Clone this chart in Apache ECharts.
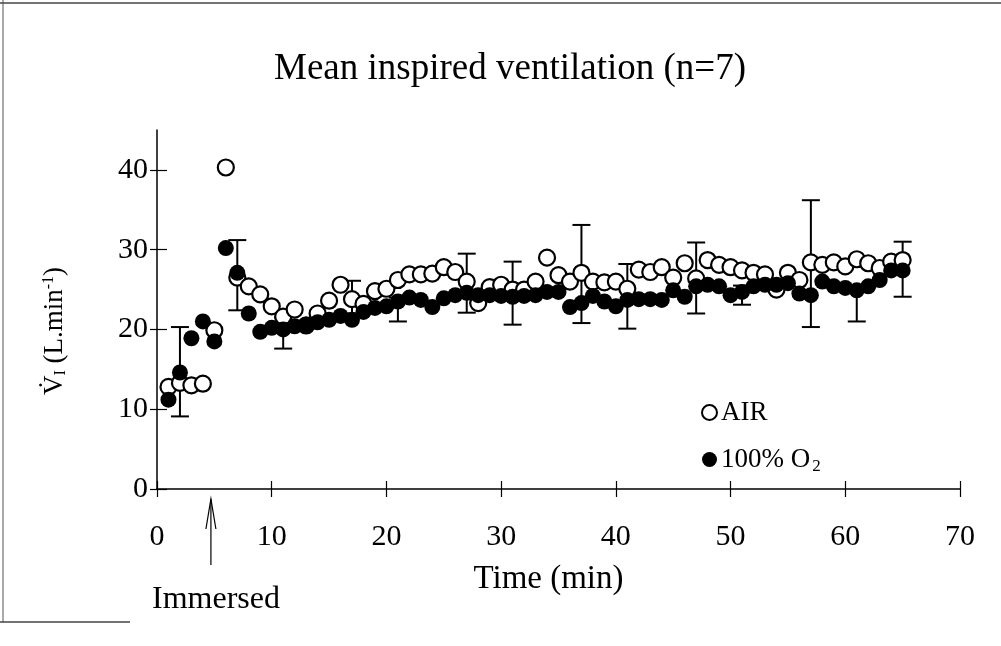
<!DOCTYPE html>
<html>
<head>
<meta charset="utf-8">
<script src="https://cdn.jsdelivr.net/npm/echarts@6/dist/echarts.min.js"></script>
<style>html,body{margin:0;padding:0;background:#fff}#c{width:1001px;height:646px}</style>
</head>
<body>
<div id="c"></div>
<script>
var time = [1,2,3,4,5,6,7,8,9,10,11,12,13,14,15,16,17,18,19,20,21,22,23,24,25,26,27,28,29,30,31,32,33,34,35,36,37,38,39,40,41,42,43,44,45,46,47,48,49,50,51,52,53,54,55,56,57,58,59,60,61,62,63,64,65];
var airValues = [12.8,13.3,13.0,13.2,19.9,40.3,26.5,25.4,24.4,22.9,21.6,22.5,20.5,22.0,23.6,25.6,23.8,23.2,24.8,25.1,26.2,26.9,26.9,27.0,27.8,27.2,26.0,23.3,25.3,25.6,25.0,25.0,26.0,29.0,26.8,26.0,27.1,26.0,25.9,26.0,25.1,27.5,27.2,27.8,26.5,28.3,26.4,28.7,28.1,27.8,27.4,27.1,26.9,25.0,27.1,26.2,28.4,28.1,28.4,27.9,28.8,28.3,27.7,28.5,28.7];
var o2Values = [11.2,14.6,18.9,21.0,18.5,30.2,27.1,22.0,19.7,20.2,20.0,20.4,20.6,20.9,21.2,21.7,21.2,22.2,22.7,22.9,23.5,24.0,23.7,22.8,23.9,24.3,24.6,24.3,24.3,24.2,24.1,24.2,24.3,24.7,24.7,22.8,23.3,24.2,23.5,22.9,23.7,23.8,23.8,23.7,24.9,24.1,25.4,25.6,25.4,24.3,24.7,25.4,25.6,25.6,25.8,24.5,24.3,26.0,25.4,25.2,24.9,25.4,26.2,27.4,27.4];
var errTime = [2,7,11,17,21,27,31,37,41,47,51,57,61,65];
var errLow  = [9.1,22.4,17.6,22.0,21.0,22.1,20.6,20.8,20.1,22.0,23.1,20.3,21.0,24.1];
var errHigh = [20.3,31.2,21.5,26.1,24.0,29.5,28.5,33.1,28.2,30.9,25.5,36.2,25.5,31.0];
var xTicks = [0,10,20,30,40,50,60,70];
var yTicks = [0,10,20,30,40];
var immersedAt = 4.7;

var FONT = '"Liberation Serif","Times New Roman",serif';
var airData = time.map(function(t,i){return [t, airValues[i]];});
var o2Data = time.map(function(t,i){return [t, o2Values[i]];});
var errData = errTime.map(function(t,i){return [t, errLow[i], errHigh[i]];});

var GL = 157, GR = 41, GT = 130, GB = 157;
var W = 1001, H = 646;
var chart = echarts.init(document.getElementById('c'), null, {renderer:'canvas'});
var option = {
  animation:false,
  backgroundColor:'#fff',
  title:{text:'Mean inspired ventilation (n=7)', left:505, top:46, textAlign:'center',
    textStyle:{fontFamily:FONT, fontSize:37, fontWeight:'normal', color:'#000'}},
  grid:{left:GL, right:GR, top:GT, bottom:GB},
  legend:{orient:'vertical', left:696, top:394, itemGap:20, itemWidth:15, itemHeight:15,
    data:['AIR','100% O2'],
    formatter:function(n){return n==='AIR' ? '{n|AIR}' : '{n|100% O}{s|2}';},
    textStyle:{fontFamily:FONT, fontSize:27, color:'#000', padding:[0,0,0,-1],
      rich:{n:{fontFamily:FONT, fontSize:27, color:'#000'}, s:{fontFamily:FONT, fontSize:17, color:'#000', verticalAlign:'bottom', padding:[14,0,0,2]}}}},
  xAxis:[
    {type:'value', min:0, max:70, interval:10, name:'Time (min)', nameLocation:'middle', nameGap:74,
     nameTextStyle:{fontFamily:FONT, fontSize:33, color:'#000', padding:[0,20,0,0]},
     axisLine:{show:true, onZero:false, lineStyle:{color:'#000', width:1.5}},
     axisTick:{show:true, length:8, lineStyle:{color:'#000', width:1.2}, customValues:xTicks},
     axisLabel:{customValues:xTicks, fontFamily:FONT, fontSize:30, color:'#000', margin:33},
     splitLine:{show:false}},
    {type:'value', min:0, max:70, interval:10, position:'top', offset:-(H-GT-GB),
     axisLine:{show:false, onZero:false},
     axisTick:{show:true, length:8, lineStyle:{color:'#000', width:1.2}, customValues:xTicks},
     axisLabel:{show:false}, splitLine:{show:false}}
  ],
  yAxis:[
    {type:'value', min:0, max:45, interval:10,
     axisLine:{show:true, onZero:false, lineStyle:{color:'#000', width:1.5}},
     axisTick:{show:true, length:7, lineStyle:{color:'#000', width:1.2}, customValues:yTicks},
     axisLabel:{customValues:yTicks, fontFamily:FONT, fontSize:30, color:'#000', margin:9},
     splitLine:{show:false}},
    {type:'value', min:0, max:45, interval:10, position:'right', offset:-(W-GL-GR),
     axisLine:{show:false, onZero:false},
     axisTick:{show:true, length:10, lineStyle:{color:'#000', width:1.2}, customValues:yTicks},
     axisLabel:{show:false}, splitLine:{show:false}}
  ],
  series:[
    {name:'err', type:'custom', xAxisIndex:0, yAxisIndex:0, z:1, data:errData,
     renderItem:function(params, api){
       var lo = api.coord([api.value(0), api.value(1)]);
       var hi = api.coord([api.value(0), api.value(2)]);
       var w = 9;
       var st = {stroke:'#000', lineWidth:2};
       return {type:'group', children:[
         {type:'line', shape:{x1:lo[0], y1:lo[1], x2:hi[0], y2:hi[1]}, style:st},
         {type:'line', shape:{x1:lo[0]-w, y1:lo[1], x2:lo[0]+w, y2:lo[1]}, style:st},
         {type:'line', shape:{x1:hi[0]-w, y1:hi[1], x2:hi[0]+w, y2:hi[1]}, style:st}
       ]};
     }},
    {name:'AIR', type:'scatter', xAxisIndex:0, yAxisIndex:0, z:2, symbol:'circle', symbolSize:16, data:airData,
     itemStyle:{color:'#fff', borderColor:'#000', borderWidth:2.2, opacity:1}},
    {name:'100% O2', type:'scatter', xAxisIndex:0, yAxisIndex:0, z:3, symbol:'circle', symbolSize:16, data:o2Data,
     itemStyle:{color:'#000', borderColor:'#000', borderWidth:0, opacity:1}}
  ]
};
chart.setOption(option);

var tip = chart.convertToPixel({xAxisIndex:0, yAxisIndex:0}, [immersedAt, 0]);
var ax = tip[0], ay = tip[1] + 10;
chart.setOption({graphic:[
  {type:'line', shape:{x1:ax, y1:ay, x2:ax, y2:ay+66}, style:{stroke:'#000', lineWidth:1.2}},
  {type:'polyline', shape:{points:[[ax-5, ay+30],[ax, ay],[ax+5, ay+30]]}, style:{stroke:'#000', lineWidth:1.2, fill:null}},
  {type:'text', left:152, top:584, style:{text:'Immersed', font:'32px ' + FONT, fill:'#000'}},
  {type:'text', x:55, y:331, rotation:Math.PI/2,
   style:{text:'{v|V̇}{s|I}{n| (L.min}{p|-1}{n|)}', align:'center', verticalAlign:'middle',
     rich:{v:{fontFamily:FONT, fontSize:27, fill:'#000'},
           n:{fontFamily:FONT, fontSize:27, fill:'#000'},
           s:{fontFamily:FONT, fontSize:16, fill:'#000', verticalAlign:'bottom', padding:[12,0,0,0]},
           p:{fontFamily:FONT, fontSize:16, fill:'#000', verticalAlign:'top', padding:[0,0,12,0]}}}},
  {type:'line', shape:{x1:0, y1:3, x2:1001, y2:3}, style:{stroke:'#444', lineWidth:1.5}},
  {type:'line', shape:{x1:3, y1:0, x2:3, y2:622}, style:{stroke:'#555', lineWidth:1}},
  {type:'line', shape:{x1:0, y1:622, x2:130, y2:622}, style:{stroke:'#444', lineWidth:1.5}}
]});
</script>
</body>
</html>
